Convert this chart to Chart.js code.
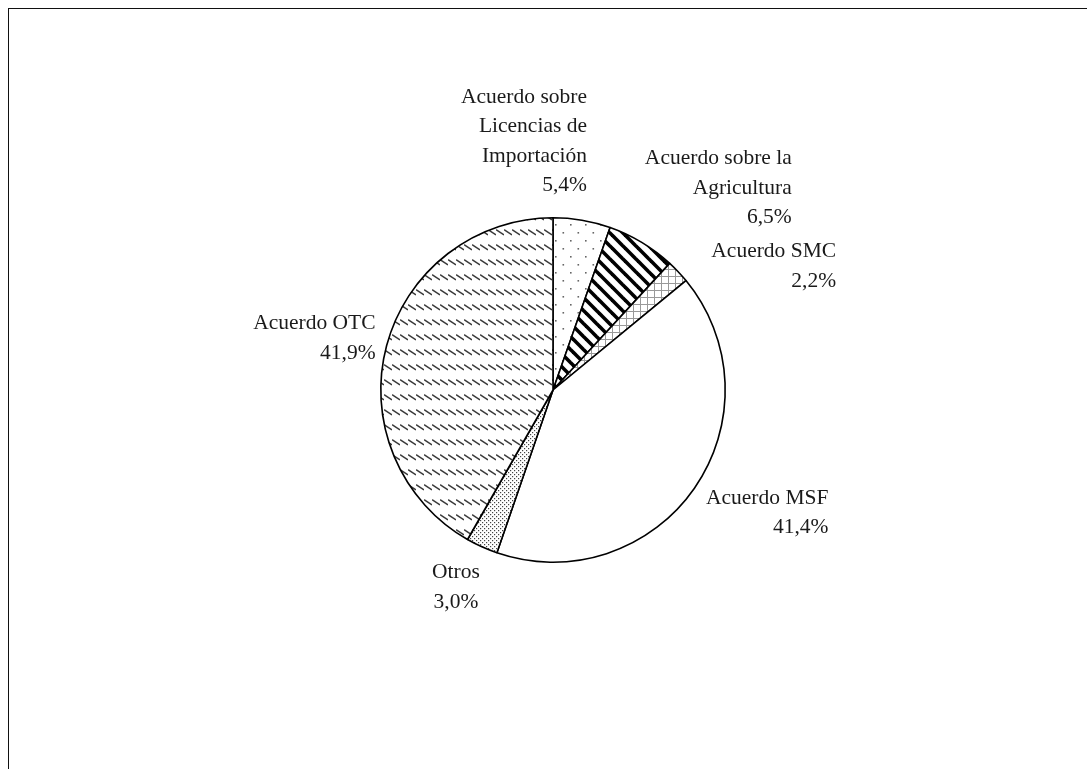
<!DOCTYPE html>
<html>
<head>
<meta charset="utf-8">
<script src="https://cdn.jsdelivr.net/npm/chart.js@4.4.1/dist/chart.umd.min.js"></script>
<style>
  html, body { margin: 0; padding: 0; background: #fff; overflow: hidden; }
  #frame { position: absolute; left: 8px; top: 8px; width: 1200px; height: 900px; border: 1.5px solid #111; box-sizing: border-box; }
  #c { position: absolute; left: 0; top: 0; }
</style>
</head>
<body>
<div id="frame"></div>
<canvas id="c" width="1087" height="769"></canvas>
<script>
// ---- data ----
const categories = [
  'Acuerdo sobre Licencias de Importación',
  'Acuerdo sobre la Agricultura',
  'Acuerdo SMC',
  'Acuerdo MSF',
  'Otros',
  'Acuerdo OTC'
];
const labelLines = [
  ['Acuerdo sobre', 'Licencias de', 'Importación'],
  ['Acuerdo sobre la', 'Agricultura'],
  ['Acuerdo SMC'],
  ['Acuerdo MSF'],
  ['Otros'],
  ['Acuerdo OTC']
];
const values = [5.4, 6.5, 2.2, 41.4, 3.0, 41.9];

// ---- label placement (offset from slice's outer mid point) ----
const labelOffsets = [
  { dx: 5, dy: -29, align: 'right' },
  { dx: 150, dy: -19, align: 'right' },
  { dx: 158, dy: 15, align: 'right' },
  { dx: 134, dy: 45, align: 'right' },
  { dx: -26, dy: 61, align: 'center' },
  { dx: -11, dy: 13, align: 'right' }
];

// ---- patterns ----
function tile(w, h, draw) {
  const cv = document.createElement('canvas');
  cv.width = w; cv.height = h;
  const g = cv.getContext('2d');
  g.fillStyle = '#fff'; g.fillRect(0, 0, w, h);
  draw(g, w, h);
  return document.getElementById('c').getContext('2d').createPattern(cv, 'repeat');
}
const patLicencias = tile(15, 16, (g) => {
  g.fillStyle = '#666';
  g.fillRect(0, 0, 1.6, 1.6);
  g.fillRect(7.5, 8, 1.6, 1.6);
});
const patAgri = tile(13, 13, (g, w, h) => {
  g.strokeStyle = '#000'; g.lineWidth = 3.6;
  for (let k = -1; k <= 1; k++) {
    g.beginPath(); g.moveTo(-2, k * h - 2); g.lineTo(w + 2, k * h + h + 2); g.stroke();
  }
});
const patSMC = tile(7, 7, (g) => {
  g.fillStyle = '#999';
  g.fillRect(0, 3, 7, 1);
  g.fillRect(3, 0, 1, 7);
});
const patMSF = '#ffffff';
const patOtros = tile(4, 4, (g) => {
  g.fillStyle = '#444';
  g.fillRect(0, 0, 1.2, 1.2);
  g.fillRect(2, 2, 1.2, 1.2);
});
const patOTC = tile(8, 15, (g) => {
  g.strokeStyle = '#3a3a3a'; g.lineWidth = 1.5;
  g.beginPath(); g.moveTo(0, 4.5); g.lineTo(8, 10); g.stroke();
});
const fills = [patLicencias, patAgri, patSMC, patMSF, patOtros, patOTC];

function fmtPct(v) { return v.toFixed(1).replace('.', ',') + '%'; }

const labelPlugin = {
  id: 'sliceLabels',
  afterDatasetsDraw(chart) {
    const ctx = chart.ctx;
    const meta = chart.getDatasetMeta(0);
    ctx.save();
    ctx.font = '21.5px "Liberation Serif", "Times New Roman", serif';
    ctx.fillStyle = '#1a1a1a';
    ctx.textBaseline = 'alphabetic';
    const lh = 29.5;
    meta.data.forEach((el, i) => {
      const p = el.getProps(['x', 'y', 'startAngle', 'endAngle', 'outerRadius'], true);
      const mid = (p.startAngle + p.endAngle) / 2;
      const ax = p.x + Math.cos(mid) * p.outerRadius + labelOffsets[i].dx;
      const ay = p.y + Math.sin(mid) * p.outerRadius + labelOffsets[i].dy;
      const lines = labelLines[i].concat([fmtPct(values[i])]);
      ctx.textAlign = labelOffsets[i].align;
      lines.forEach((t, j) => {
        ctx.fillText(t, ax, ay - (lines.length - 1 - j) * lh);
      });
    });
    ctx.restore();
  }
};

new Chart(document.getElementById('c'), {
  type: 'pie',
  data: {
    labels: categories,
    datasets: [{
      data: values,
      backgroundColor: fills,
      borderColor: '#000',
      borderWidth: 1.6
    }]
  },
  options: {
    responsive: false,
    animation: false,
    events: [],
    layout: { padding: { left: 380, right: 361, top: 217, bottom: 206 } },
    plugins: { legend: { display: false }, tooltip: { enabled: false } }
  },
  plugins: [labelPlugin]
});
</script>
</body>
</html>
